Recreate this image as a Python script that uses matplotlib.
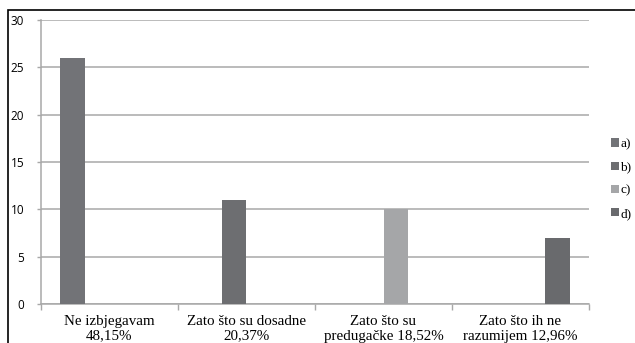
import matplotlib.pyplot as plt
import numpy as np
from matplotlib.patches import Rectangle

# data
categories = ["Ne izbjegavam\n48,15%", "Zato što su dosadne\n20,37%",
              "Zato što su\npredugačke 18,52%", "Zato što ih ne\nrazumijem 12,96%"]
series = ["a)", "b)", "c)", "d)"]
val_a = [26, 0, 0, 0]
val_b = [0, 11, 0, 0]
val_c = [0, 0, 10, 0]
val_d = [0, 0, 0, 7]
colors = ["#727377", "#6d6e71", "#a5a6a8", "#696a6d"]
grid_gr = "#a8a8a8"

fig = plt.figure(figsize=(6.35, 3.43), dpi=100)
ax = fig.add_axes([41/635, 1-304/343, (589-41)/635, (304-20)/343])

x = np.arange(len(categories))
w = 1/5.5
for j, (vals, lab) in enumerate(zip([val_a, val_b, val_c, val_d], series)):
    ax.bar(x + (j-1.5)*w, vals, w, color=colors[j], label=lab, linewidth=0, zorder=3)

ax.set_xlim(-0.5, 3.5)
ax.set_ylim(0, 30)
ax.set_yticks(range(0, 31, 5))
ax.yaxis.grid(color=grid_gr, linewidth=1.1, zorder=0)

# category labels in the middle, tick marks on boundaries
ax.set_xticks(x)
ax.set_xticklabels(categories, family="Liberation Serif", fontsize=10.8, linespacing=1.15)
ax.tick_params(axis="x", length=0, pad=8)
ax.set_xticks(np.arange(-0.5, 4, 1), minor=True)
ax.tick_params(axis="x", which="minor", length=4, color=grid_gr, width=1)
ax.tick_params(axis="y", length=3, color=grid_gr, width=1, pad=9, labelsize=8.5)
for t in ax.get_yticklabels():
    t.set_family("Open Sans")

for s in ["top", "right"]:
    ax.spines[s].set_visible(False)
for s in ["left", "bottom"]:
    ax.spines[s].set_color(grid_gr)
    ax.spines[s].set_linewidth(1.1)

leg = ax.legend(loc="center left", bbox_to_anchor=(611/635, 1-179/343),
                bbox_transform=fig.transFigure, frameon=False,
                handlelength=0.6, handleheight=0.6, handletextpad=0.1,
                labelspacing=0.85, borderpad=0, borderaxespad=0,
                prop={"family": "Liberation Serif", "size": 9.5})

# outer chart frame
fig.patches.append(Rectangle((8/635, -0.1), 1.2, 0.1 + 1 - 10.5/343,
                             transform=fig.transFigure, fill=False,
                             edgecolor="black", linewidth=1.2))

fig.savefig("out.png", dpi=100)
